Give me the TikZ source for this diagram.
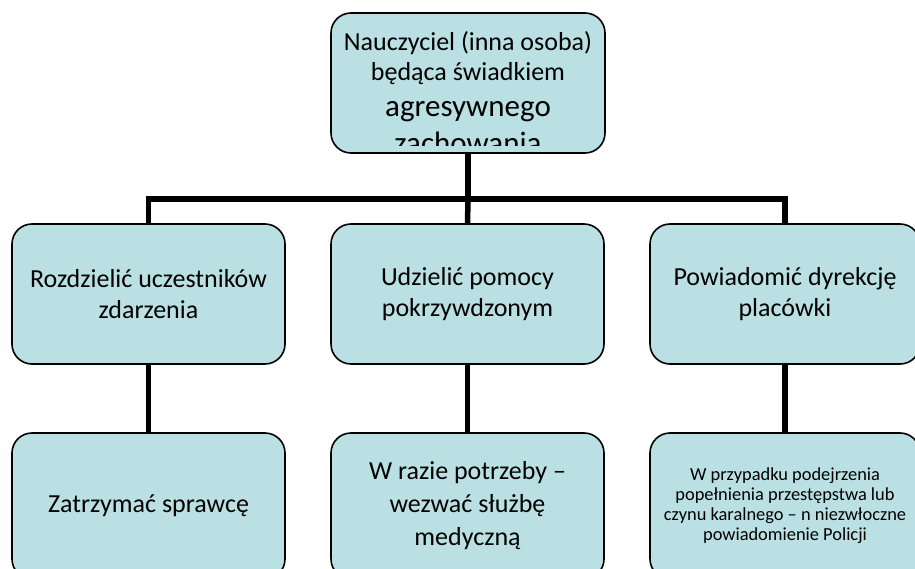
\documentclass[tikz,border=0pt]{standalone}
\usepackage{fontspec}
\setmainfont{Carlito}
\definecolor{boxfill}{RGB}{186,224,228}
\begin{document}
\begin{tikzpicture}[x=1pt,y=-1pt,
  box/.style={draw=black, line width=1.6pt, fill=boxfill, rounded corners=20pt,
    inner sep=0pt, outer sep=0pt, align=center,
    font=\fontsize{26}{31}\selectfont},
  conn/.style={line width=5.5pt, draw=black},
  small/.style={font=\fontsize{18.4}{20}\selectfont}]
\useasboundingbox (0,0) rectangle (915,569);
\clip (0,0) rectangle (915,569);

% top box; its text runs past the lower edge and is cut off
\node[box, minimum width=274pt, minimum height=140pt] (top) at (468,83) {};
\begin{scope}
  \clip (331,13) rectangle (605,146);
  \node[inner sep=0pt, align=center, anchor=north,
        font=\fontsize{26}{30}\selectfont] (toptext) at (468,31)
    {Nauczyciel (inna osoba)\\
     będąca świadkiem\\[6pt]
     \fontsize{31}{36}\selectfont agresywnego\\[7pt]
     \fontsize{31}{36}\selectfont zachowania};
\end{scope}

% middle row
\node[box, minimum width=273pt, minimum height=140pt] (m1) at (148.5,294)
  {Rozdzielić uczestników\\ zdarzenia};
\node[box, minimum width=273pt, minimum height=140pt] (m2) at (467.5,294)
  {Udzielić pomocy\\ pokrzywdzonym};
\node[box, minimum width=270pt, minimum height=140pt] (m3) at (785,294)
  {Powiadomić dyrekcję\\ placówki};

% bottom row (runs off the lower edge)
\node[box, minimum width=273pt, minimum height=146pt] (b1) at (148.5,506)
  {Zatrzymać sprawcę};
\node[box, minimum width=273pt, minimum height=146pt,
      font=\fontsize{26}{33}\selectfont] (b2) at (467.5,506)
  {W razie potrzeby –\\ wezwać służbę\\ medyczną};
\node[box, small, minimum width=270pt, minimum height=146pt] (b3) at (785,506)
  {W przypadku podejrzenia\\ popełnienia przestępstwa lub\\
   czynu karalnego – n niezwłoczne\\ powiadomienie Policji};

% connectors
\coordinate (bus) at (468,199);
\draw[conn] (top.south) -- (bus);
\draw[conn] (m1.north) |- (bus) -| (m3.north);
\draw[conn] (bus) -- (m2.north);
\draw[conn] (m1.south) -- (b1.north);
\draw[conn] (m2.south) -- (b2.north);
\draw[conn] (m3.south) -- (b3.north);
\end{tikzpicture}
\end{document}
